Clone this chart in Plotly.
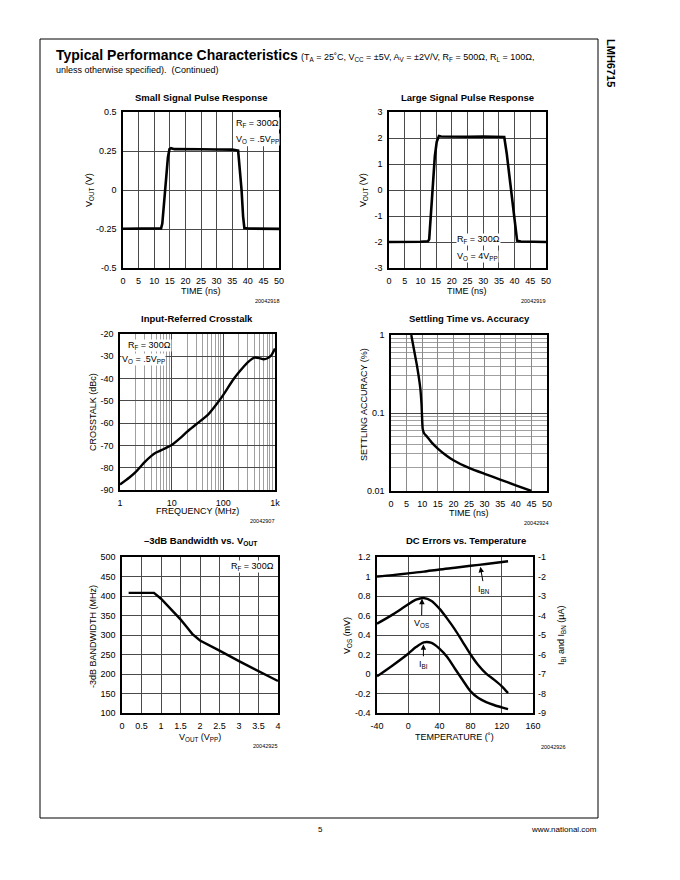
import plotly.graph_objects as go

W, H = 680, 880
FONT = "Liberation Sans, Arial, Helvetica, sans-serif"

# ---------------- data ----------------
# Small Signal Pulse Response
t_small = [0, 5, 10, 12.2, 12.6, 13.5, 14.4, 14.9, 15.4, 16.5, 20, 25, 30, 35, 36.9, 37.4, 38.0, 38.5, 38.9, 40, 45, 50]
v_small = [-0.248, -0.247, -0.248, -0.246, -0.215, -0.02, 0.21, 0.262, 0.268, 0.262, 0.260, 0.261, 0.260, 0.259, 0.253, 0.15, 0.0, -0.17, -0.244, -0.247, -0.248, -0.249]

# Large Signal Pulse Response
t_large = [0, 5, 10, 12.4, 12.8, 13.7, 14.6, 15.2, 15.9, 16.6, 20, 25, 30, 35, 36.7, 37.5, 38.5, 39.5, 40.3, 40.8, 42, 45, 50]
v_large = [-2.0, -2.0, -1.99, -1.97, -1.9, -0.3, 1.3, 1.85, 2.08, 2.06, 2.05, 2.05, 2.06, 2.06, 2.04, 1.4, 0.4, -0.75, -1.6, -1.95, -1.98, -1.99, -2.0]

# Input-Referred Crosstalk
f_ct = [1, 1.5, 2, 3, 4, 5, 7, 10, 15, 20, 30, 50, 70, 100, 150, 200, 300, 400, 500, 600, 700, 850, 1000]
xt_ct = [-87.5, -84.5, -82, -77.5, -74.8, -73.2, -71.6, -69.8, -66.5, -63.8, -60.5, -56.3, -52.2, -47.3, -41, -37.2, -32.6, -30.6, -30.8, -31.3, -31, -29.5, -26.5]

# Settling Time vs. Accuracy
t_settle = [6.5, 7.3, 8.3, 9.4, 9.8, 10.15, 10.6, 11.5, 13, 15, 17.5, 20, 25, 30, 35, 40, 45]
acc_settle = [1.0, 0.67, 0.41, 0.206, 0.126, 0.063, 0.055, 0.05, 0.042, 0.035, 0.029, 0.0248, 0.0198, 0.0166, 0.014, 0.0118, 0.01]

# -3dB Bandwidth vs. VOUT
vout_bw = [0.17, 0.5, 0.82, 1.0, 1.25, 1.5, 1.65, 1.8, 2.0, 2.25, 2.5, 3.0, 3.5, 4.0]
bw_mhz = [408, 408, 408, 393, 367, 340, 322, 303, 286, 272, 260, 233, 208, 182]

# DC Errors vs. Temperature
temp = [-40, -20, 0, 10, 20, 30, 40, 50, 60, 70, 80, 90, 100, 110, 120, 128]
vos_mv = [0.516, 0.609, 0.715, 0.762, 0.78, 0.749, 0.67, 0.568, 0.455, 0.328, 0.2, 0.089, 0.003, -0.058, -0.126, -0.195]
ibi_ua = [-7.12, -6.56, -5.96, -5.62, -5.38, -5.41, -5.70, -6.13, -6.73, -7.32, -7.89, -8.23, -8.44, -8.59, -8.71, -8.80]
temp_bn = [-40, -20, 0, 20, 40, 60, 80, 100, 128]
ibn_ua = [-2.0, -1.93, -1.84, -1.75, -1.64, -1.55, -1.45, -1.36, -1.22]

# tick labels
tick_time = [0, 5, 10, 15, 20, 25, 30, 35, 40, 45, 50]
tick_small_v = [-0.5, -0.25, 0, 0.25, 0.5]
tick_small_t = ["-0.5", "-0.25", "0", "0.25", "0.5"]
tick_large_v = [-3, -2, -1, 0, 1, 2, 3]
tick_large_t = ["-3", "-2", "-1", "0", "1", "2", "3"]
tick_freq_v = [1, 10, 100, 1000]
tick_freq_t = ["1", "10", "100", "1k"]
tick_ct_v = [-90, -80, -70, -60, -50, -40, -30, -20]
tick_ct_t = ["-90", "-80", "-70", "-60", "-50", "-40", "-30", "-20"]
tick_acc_v = [0.01, 0.1, 1]
tick_acc_t = ["0.01", "0.1", "1"]
tick_vout_v = [0, 0.5, 1, 1.5, 2, 2.5, 3, 3.5, 4]
tick_vout_t = ["0", "0.5", "1", "1.5", "2", "2.5", "3", "3.5", "4"]
tick_bw_v = [100, 150, 200, 250, 300, 350, 400, 450, 500]
tick_temp_v = [-40, 0, 40, 80, 120, 160]
tick_temp_t = ["-40", "0", "40", "80", "120", "160"]
tick_vos_v = [-0.4, -0.2, 0, 0.2, 0.4, 0.6, 0.8, 1, 1.2]
tick_vos_t = ["-0.4", "-0.2", "0", "0.2", "0.4", "0.6", "0.8", "1", "1.2"]
tick_ib_v = [-9, -8, -7, -6, -5, -4, -3, -2, -1]
tick_ib_t = ["-9", "-8", "-7", "-6", "-5", "-4", "-3", "-2", "-1"]


def px(x):
    return x / W


def py(y):
    return 1 - y / H


def axis(x0, x1, rng, tickvals, ticktext=None, **kw):
    d = dict(domain=[x0, x1], range=rng, showgrid=True, gridcolor="#4a4a4a", gridwidth=1,
             showline=True, mirror=True, linecolor="black", linewidth=1.5, zeroline=False,
             ticks="", tickmode="array", tickvals=tickvals,
             ticktext=ticktext if ticktext is not None else [str(v) for v in tickvals],
             tickfont=dict(size=9, family=FONT, color="black"), ticklabelstandoff=3,
             automargin=False, fixedrange=True)
    d.update(kw)
    return d


LINE = dict(color="black", width=2.6)
fig = go.Figure()
fig.add_trace(go.Scatter(x=t_small, y=v_small, xaxis="x", yaxis="y", mode="lines", line=LINE))
fig.add_trace(go.Scatter(x=t_large, y=v_large, xaxis="x2", yaxis="y2", mode="lines", line=LINE))
fig.add_trace(go.Scatter(x=f_ct, y=xt_ct, xaxis="x3", yaxis="y3", mode="lines",
                         line=dict(color="black", width=2.4, shape="spline", smoothing=0.6)))
fig.add_trace(go.Scatter(x=t_settle, y=acc_settle, xaxis="x4", yaxis="y4", mode="lines",
                         line=dict(color="black", width=2.4, shape="spline", smoothing=0.4)))
fig.add_trace(go.Scatter(x=vout_bw, y=bw_mhz, xaxis="x5", yaxis="y5", mode="lines",
                         line=dict(color="black", width=2.4)))
fig.add_trace(go.Scatter(x=temp, y=vos_mv, xaxis="x6", yaxis="y6", mode="lines",
                         line=dict(color="black", width=2.4, shape="spline", smoothing=0.8)))
fig.add_trace(go.Scatter(x=temp, y=ibi_ua, xaxis="x6", yaxis="y7", mode="lines",
                         line=dict(color="black", width=2.4, shape="spline", smoothing=0.8)))
fig.add_trace(go.Scatter(x=temp_bn, y=ibn_ua, xaxis="x6", yaxis="y7", mode="lines",
                         line=dict(color="black", width=2.4, shape="spline", smoothing=0.8)))

MINOR = dict(dtick="D1", showgrid=True, gridcolor="#a0a0a0", gridwidth=1, ticks="")

fig.update_layout(
    template="none",
    width=W, height=H, margin=dict(l=0, r=0, t=0, b=0, pad=0), autosize=False,
    paper_bgcolor="white", plot_bgcolor="white", showlegend=False,
    font=dict(family=FONT, color="black", size=9),
    xaxis=axis(px(123), px(279), [0, 50], tick_time, anchor="y"),
    yaxis=axis(py(268), py(112), [-0.5, 0.5], tick_small_v, tick_small_t, anchor="x"),
    xaxis2=axis(px(389), px(546), [0, 50], tick_time, anchor="y2"),
    yaxis2=axis(py(268), py(112), [-3, 3], tick_large_v, tick_large_t, anchor="x2"),
    xaxis3=axis(px(120), px(275), [0, 3], tick_freq_v, tick_freq_t, anchor="y3", type="log", minor=MINOR),
    yaxis3=axis(py(490), py(334), [-90, -20], tick_ct_v, tick_ct_t, anchor="x3"),
    xaxis4=axis(px(391), px(547), [0, 50], tick_time, anchor="y4", gridcolor="#8a8a8a"),
    yaxis4=axis(py(491), py(335), [-2, 0], tick_acc_v, tick_acc_t, anchor="x4", type="log", minor=MINOR),
    xaxis5=axis(px(122), px(278), [0, 4], tick_vout_v, tick_vout_t, anchor="y5"),
    yaxis5=axis(py(713), py(557), [100, 500], tick_bw_v, anchor="x5"),
    xaxis6=axis(px(377), px(533), [-40, 160], tick_temp_v, tick_temp_t, anchor="y6"),
    yaxis6=axis(py(713), py(557), [-0.4, 1.2], tick_vos_v, tick_vos_t, anchor="x6"),
    yaxis7=dict(domain=[py(713), py(557)], range=[-9, -1], overlaying="y6", anchor="x6", side="right",
                showgrid=False, zeroline=False, showline=False, ticks="", tickmode="array",
                tickvals=tick_ib_v, ticktext=tick_ib_t, ticklabelstandoff=4, automargin=False,
                tickfont=dict(size=9, family=FONT, color="black"), fixedrange=True),
)

ann = []


def text(x, y, s, size=9, xanchor="center", yanchor="middle", angle=0, bold=False, bg=None):
    a = dict(x=px(x), y=py(y), xref="paper", yref="paper", text=("<b>%s</b>" % s) if bold else s,
             showarrow=False, xanchor=xanchor, yanchor=yanchor, textangle=angle,
             font=dict(size=size, family=FONT, color="black"), borderpad=0)
    if bg:
        a["bgcolor"] = bg
    ann.append(a)


# page header
text(55, 55, "Typical Performance Characteristics", size=14, xanchor="left", bold=True)
text(300, 57, "(T<sub>A</sub> = 25˚C, V<sub>CC</sub> = ±5V, A<sub>V</sub> = ±2V/V, R<sub>F</sub> = 500Ω, R<sub>L</sub> = 100Ω,",
     size=9, xanchor="left")
text(55, 70, "unless otherwise specified).&nbsp; (Continued)", size=9, xanchor="left")
text(611, 63, "LMH6715", size=11, angle=90, bold=True)
text(320, 829, "5", size=8)
text(598, 829, "www.national.com", size=8, xanchor="right")

# subplot titles
text(201, 97, "Small Signal Pulse Response", size=9.5, bold=True)
text(467, 97, "Large Signal Pulse Response", size=9.5, bold=True)
text(197, 318, "Input-Referred Crosstalk", size=9.5, bold=True)
text(469, 318, "Settling Time vs. Accuracy", size=9.5, bold=True)
text(200, 541, "–3dB Bandwidth vs. V<sub>OUT</sub>", size=9.5, bold=True)
text(466, 540, "DC Errors vs. Temperature", size=9.5, bold=True)

# axis titles
text(201, 291, "TIME (ns)")
text(467, 291, "TIME (ns)")
text(197, 511, "FREQUENCY (MHz)")
text(469, 513, "TIME (ns)")
text(200, 737, "V<sub>OUT</sub> (V<sub>PP</sub>)")
text(455, 737, "TEMPERATURE (˚)")
text(89, 190, "V<sub>OUT</sub> (V)", angle=-90)
text(363, 190, "V<sub>OUT</sub> (V)", angle=-90)
text(93, 412, "CROSSTALK (dBc)", angle=-90)
text(364, 405, "SETTLING ACCURACY (%)", angle=-90)
text(93, 637, "-3dB BANDWIDTH (MHz)", angle=-90)
text(347, 636, "V<sub>OS</sub> (mV)", angle=-90)
text(561, 636, "I<sub>BI</sub> and I<sub>BN</sub> (µA)", angle=-90)

# figure ids
for (x, y, s) in [(280, 301, "20042918"), (546, 301, "20042919"), (275, 521, "20042907"),
                  (549, 523, "20042924"), (278, 746, "20042925"), (566, 747, "20042926")]:
    text(x, y, s, size=5.5, xanchor="right")

# in-plot conditions
text(235, 123, "R<sub>F</sub> = 300Ω", xanchor="left", bg="white")
text(235, 139, "V<sub>O</sub> = .5V<sub>PP</sub>", xanchor="left", bg="white")
text(456, 240, "R<sub>F</sub> = 300Ω", xanchor="left", bg="white")
text(456, 256, "V<sub>O</sub> = 4V<sub>PP</sub>", xanchor="left", bg="white")
text(127, 345, "R<sub>F</sub> = 300Ω", xanchor="left", bg="white")
text(121, 359, "V<sub>O</sub> = .5V<sub>PP</sub>", xanchor="left", bg="white")
text(230, 566, "R<sub>F</sub> = 300Ω", xanchor="left", bg="white")

# curve labels with arrows (DC errors)
for (hx, hy, lx, ly, s) in [(92.5, 1.10, 97.5, 0.87, "I<sub>BN</sub>"),
                            (17.7, 0.772, 17.0, 0.52, "V<sub>OS</sub>"),
                            (19.5, 0.305, 19.5, 0.10, "I<sub>BI</sub>")]:
    ann.append(dict(x=hx, y=hy, xref="x6", yref="y6", ax=lx, ay=ly, axref="x6", ayref="y6",
                    text=s, showarrow=True, arrowhead=2, arrowsize=1.1, arrowwidth=1,
                    arrowcolor="black", font=dict(size=9, family=FONT, color="black"),
                    standoff=0, startstandoff=1))

shapes = [
    dict(type="rect", xref="paper", yref="paper", x0=px(40), x1=px(598),
         y0=py(818), y1=py(39), line=dict(color="black", width=1)),
    # white legend boxes that hide the grid behind the condition labels
    dict(type="rect", xref="x", yref="y", x0=35.5, x1=50, y0=0.28, y1=0.5,
         fillcolor="white", line=dict(width=0), layer="between"),
    dict(type="rect", xref="x3", yref="y3", x0=0, x1=0.975, y0=-34.5, y1=-20,
         fillcolor="white", line=dict(width=0), layer="between"),
]

fig.update_layout(annotations=ann, shapes=shapes)

fig.write_html("out.html", config={"displayModeBar": False},
               post_script="document.body.style.margin='0';document.body.style.padding='0';")
